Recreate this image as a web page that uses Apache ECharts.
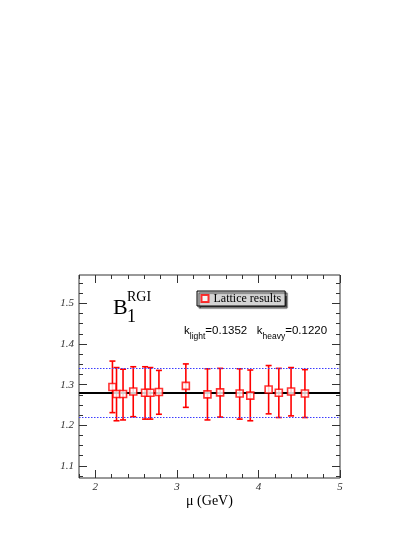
<!DOCTYPE html>
<html>
<head>
<meta charset="utf-8">
<script src="https://cdn.jsdelivr.net/npm/echarts@6/dist/echarts.min.js"></script>
<style>
  html, body { margin: 0; padding: 0; background: #fff; }
  #chart { width: 417px; height: 539px; }
</style>
</head>
<body>
<div id="chart"></div>
<script>
// mu (GeV) and B1^RGI with error bar ends
const muValues = [2.21, 2.26, 2.34, 2.465, 2.61, 2.675, 2.78, 3.11, 3.375, 3.53, 3.77, 3.90, 4.125, 4.25, 4.40, 4.57]
const bValues = [1.294, 1.277, 1.277, 1.283, 1.280, 1.280, 1.282, 1.297, 1.276, 1.281, 1.278, 1.273, 1.288, 1.280, 1.283, 1.278]
const errHigh = [1.358, 1.342, 1.338, 1.344, 1.344, 1.342, 1.335, 1.351, 1.339, 1.340, 1.339, 1.336, 1.347, 1.340, 1.342, 1.337]
const errLow = [1.231, 1.211, 1.213, 1.221, 1.215, 1.215, 1.227, 1.244, 1.213, 1.220, 1.215, 1.211, 1.228, 1.219, 1.223, 1.219]

// fit value and band
const fitValue = 1.281
const bandHigh = 1.341
const bandLow = 1.222

// ticks
const xMajor = [2, 3, 4, 5]
const xMinor = [1.8, 2.0, 2.2, 2.4, 2.6, 2.8, 3.0, 3.2, 3.4, 3.6, 3.8, 4.0, 4.2, 4.4, 4.6, 4.8, 5.0]
const yMajor = [1.1, 1.2, 1.3, 1.4, 1.5]
const yMinor = [1.075, 1.1, 1.125, 1.15, 1.175, 1.2, 1.225, 1.25, 1.275, 1.3, 1.325, 1.35,
  1.375, 1.4, 1.425, 1.45, 1.475, 1.5, 1.525, 1.55]

const X_MIN = 1.8, X_MAX = 5
const Y_MIN = 1.07, Y_MAX = 1.57
const RED = '#ff0000'
const BLUE = '#3c3cff'
const SERIF = '"Liberation Serif", "DejaVu Serif", serif'
const SANS = '"Liberation Sans", Arial, sans-serif'

const chart = echarts.init(document.getElementById('chart'))

const gridRect = { left: 79, top: 275, width: 261, height: 203 }

const makeX = (gridIndex, position, ticks, len, labels) => ({
  type: 'value',
  gridIndex,
  position,
  min: X_MIN,
  max: X_MAX,
  axisLine: { show: false },
  splitLine: { show: false },
  axisTick: { show: true, inside: true, length: len, customValues: ticks, lineStyle: { color: '#333', width: 1 } },
  axisLabel: labels
    ? { show: true, customValues: xMajor, margin: 4, fontFamily: SERIF, fontStyle: 'italic', fontSize: 11, color: '#333' }
    : { show: false }
})

const makeY = (gridIndex, position, ticks, len, labels) => ({
  type: 'value',
  gridIndex,
  position,
  min: Y_MIN,
  max: Y_MAX,
  axisLine: { show: false },
  splitLine: { show: false },
  axisTick: { show: true, inside: true, length: len, customValues: ticks, lineStyle: { color: '#333', width: 1 } },
  axisLabel: labels
    ? { show: true, customValues: yMajor, margin: 5, fontFamily: SERIF, fontStyle: 'italic', fontSize: 11, color: '#333',
        formatter: v => v.toFixed(1) }
    : { show: false }
})

const xAxes = [
  makeX(0, 'bottom', xMajor, 8, true),
  makeX(0, 'top', xMajor, 8, false),
  makeX(1, 'bottom', xMinor, 4, false),
  makeX(1, 'top', xMinor, 4, false)
]
xAxes[0].name = 'μ (GeV)'
xAxes[0].nameLocation = 'middle'
xAxes[0].nameGap = 13
xAxes[0].nameTextStyle = { fontFamily: SERIF, fontSize: 14, color: '#000' }

const yAxes = [
  makeY(0, 'left', yMajor, 8, true),
  makeY(0, 'right', yMajor, 8, false),
  makeY(1, 'left', yMinor, 4, false),
  makeY(1, 'right', yMinor, 4, false)
]

const errData = muValues.map((m, i) => [m, errLow[i], errHigh[i]])
const pointData = muValues.map((m, i) => [m, bValues[i]])

const renderErr = (params, api) => {
  const x = api.value(0)
  const pLo = api.coord([x, api.value(1)])
  const pHi = api.coord([x, api.value(2)])
  const w = 3
  const style = { stroke: RED, lineWidth: 1.6 }
  return {
    type: 'group',
    children: [
      { type: 'line', shape: { x1: pLo[0], y1: pLo[1], x2: pHi[0], y2: pHi[1] }, style },
      { type: 'line', shape: { x1: pHi[0] - w, y1: pHi[1], x2: pHi[0] + w, y2: pHi[1] }, style },
      { type: 'line', shape: { x1: pLo[0] - w, y1: pLo[1], x2: pLo[0] + w, y2: pLo[1] }, style }
    ]
  }
}

const option = {
  backgroundColor: '#fff',
  animation: false,
  grid: [
    Object.assign({ show: true, borderColor: '#333', borderWidth: 1, backgroundColor: 'transparent' }, gridRect),
    Object.assign({ show: false }, gridRect)
  ],
  xAxis: xAxes,
  yAxis: yAxes,
  legend: {
    left: 197,
    top: 291,
    orient: 'horizontal',
    padding: [1.5, 4, 1.5, 3.5],
    itemWidth: 7,
    itemHeight: 7,
    backgroundColor: '#d3d3d3',
    borderColor: '#000',
    borderWidth: 1,
    borderRadius: 0,
    shadowColor: '#444',
    shadowBlur: 1,
    shadowOffsetX: 2,
    shadowOffsetY: 2,
    textStyle: { fontFamily: SERIF, fontSize: 12, color: '#000' },
    data: ['Lattice results']
  },
  graphic: [
    { type: 'text', left: 113, top: 297, style: { text: 'B', font: '22px ' + SERIF, fill: '#000' } },
    { type: 'text', left: 127, top: 290, style: { text: 'RGI', font: '14px ' + SERIF, fill: '#000' } },
    { type: 'text', left: 127, top: 308, style: { text: '1', font: '18px ' + SERIF, fill: '#000' } },
    {
      type: 'text', left: 184, top: 325,
      style: {
        text: '{m|k}{s|light}{m|=0.1352   k}{s|heavy}{m|=0.1220}',
        rich: {
          m: { fontFamily: SANS, fontSize: 11.5, color: '#000', lineHeight: 16, verticalAlign: 'top' },
          s: { fontFamily: SANS, fontSize: 8.5, color: '#000', lineHeight: 16, verticalAlign: 'bottom', padding: [6, 0, 0, 0] }
        }
      }
    }
  ],
  series: [
    {
      type: 'line',
      name: 'band',
      xAxisIndex: 0,
      yAxisIndex: 0,
      data: [],
      color: BLUE,
      z: 2,
      markLine: {
        silent: true,
        symbol: 'none',
        label: { show: false },
        lineStyle: { color: BLUE, width: 1, type: [1.5, 1.5], opacity: 1 },
        data: [{ yAxis: bandHigh }, { yAxis: bandLow }]
      }
    },
    {
      type: 'custom',
      name: 'errors',
      xAxisIndex: 0,
      yAxisIndex: 0,
      renderItem: renderErr,
      data: errData,
      z: 3,
      markLine: {
        silent: true,
        symbol: 'none',
        label: { show: false },
        lineStyle: { color: '#000', width: 2, type: 'solid', opacity: 1 },
        data: [{ yAxis: fitValue }]
      }
    },
    {
      type: 'scatter',
      name: 'Lattice results',
      xAxisIndex: 0,
      yAxisIndex: 0,
      symbol: 'rect',
      symbolSize: 7,
      itemStyle: { color: '#fff', borderColor: RED, borderWidth: 1.6 },
      data: pointData,
      z: 5
    }
  ]
}

chart.setOption(option)
</script>
</body>
</html>
